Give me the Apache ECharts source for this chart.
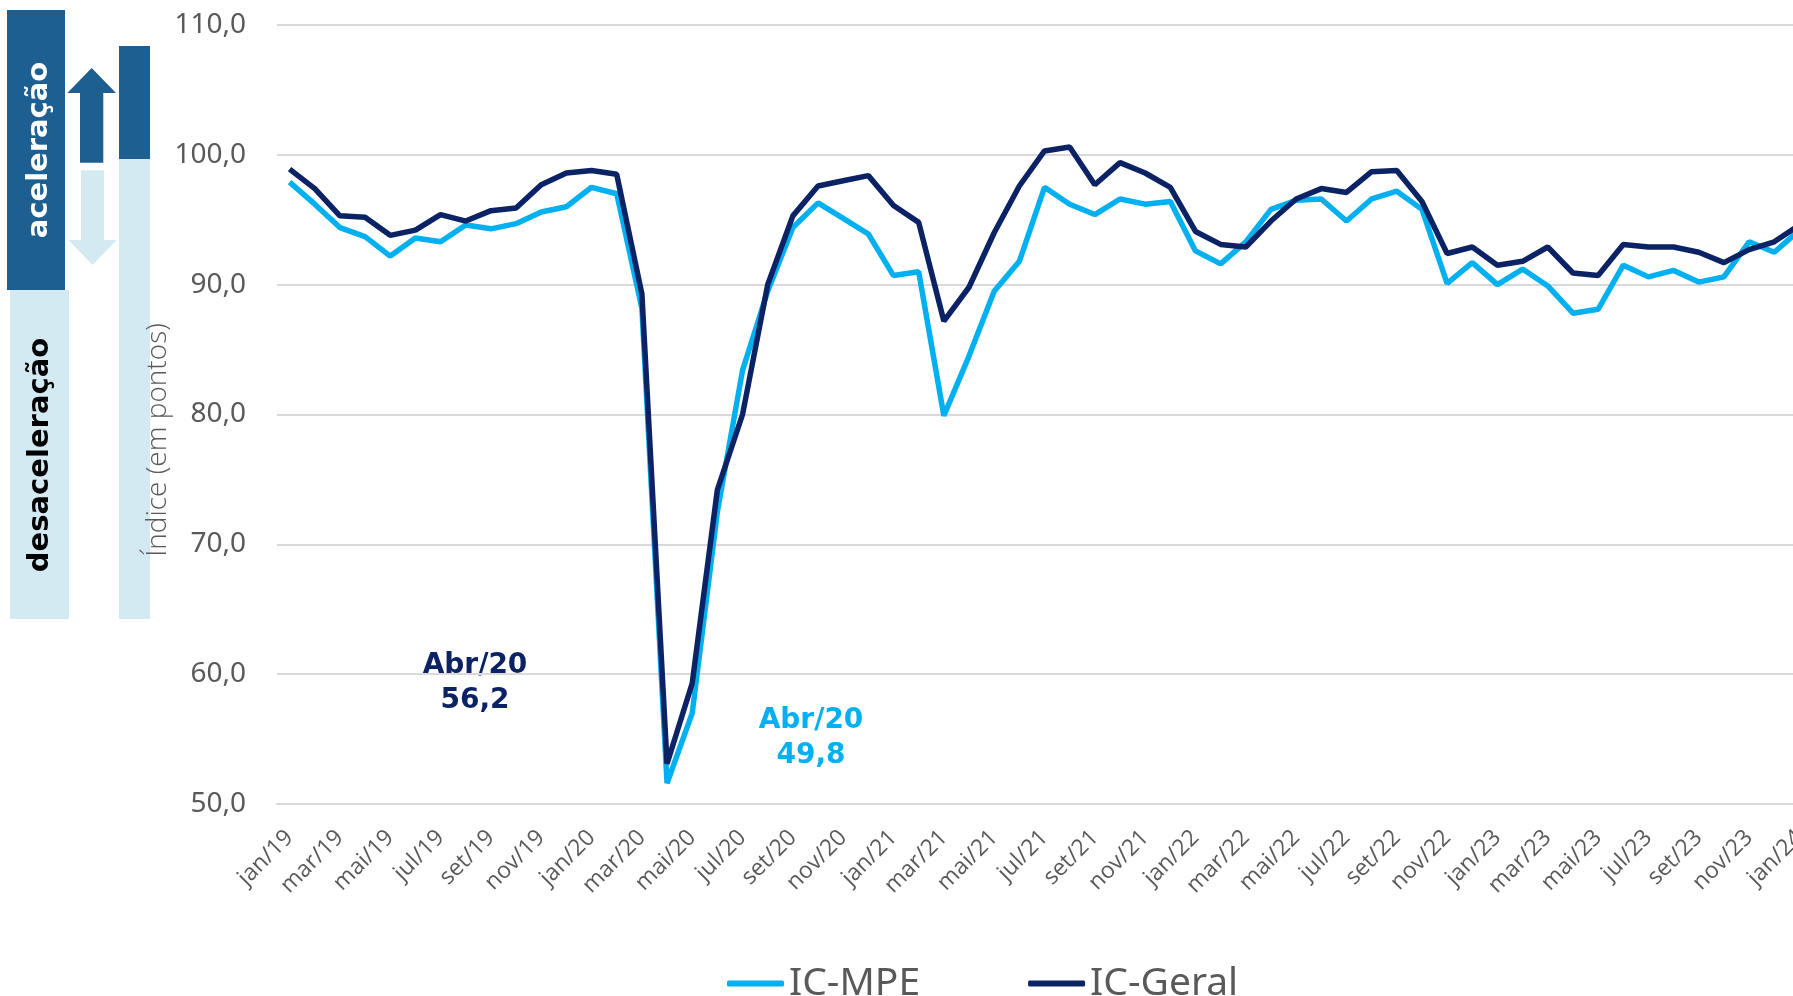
<!DOCTYPE html>
<html>
<head>
<meta charset="utf-8">
<title>IC-MPE x IC-Geral</title>
<script src="https://cdn.jsdelivr.net/npm/echarts@6/dist/echarts.min.js"></script>
<style>
  html, body { margin: 0; padding: 0; background: #fff; overflow: hidden; }
  #chart { width: 1793px; height: 996px; }
</style>
</head>
<body>
<div id="chart"></div>
<script>
// meses (jan/19 .. jan/24)
var months = ['jan', 'fev', 'mar', 'abr', 'mai', 'jun', 'jul', 'ago', 'set', 'out', 'nov', 'dez'];
var years = ['19', '20', '21', '22', '23', '24'];
var categories = [];
years.forEach(function (y) {
  months.forEach(function (m) {
    if (categories.length < 61) categories.push(m + '/' + y);
  });
});

// índice (em pontos)
var icMpe = [
  97.9, 96.2, 94.4, 93.7, 92.2, 93.6, 93.3, 94.6, 94.3, 94.7, 95.6, 96.0,
  97.5, 97.0, 88.2, 51.6, 57.0, 72.5, 83.4, 89.5, 94.4, 96.3, 95.1, 93.9,
  90.7, 91.0, 79.9, 84.5, 89.5, 91.8, 97.5, 96.2, 95.4, 96.6, 96.2, 96.4,
  92.6, 91.6, 93.3, 95.8, 96.5, 96.6, 94.9, 96.6, 97.2, 95.8, 90.1, 91.7,
  90.0, 91.2, 89.9, 87.8, 88.1, 91.5, 90.6, 91.1, 90.2, 90.6, 93.3, 92.5,
  94.2
];
var icGeral = [
  98.9, 97.4, 95.3, 95.2, 93.8, 94.2, 95.4, 94.9, 95.7, 95.9, 97.7, 98.6,
  98.8, 98.5, 89.3, 53.1, 59.3, 74.2, 80.0, 90.0, 95.3, 97.6, 98.0, 98.4,
  96.1, 94.8, 87.2, 89.8, 94.0, 97.6, 100.3, 100.6, 97.7, 99.4, 98.6, 97.5,
  94.1, 93.1, 92.9, 94.9, 96.6, 97.4, 97.1, 98.7, 98.8, 96.4, 92.4, 92.9,
  91.5, 91.8, 92.9, 90.9, 90.7, 93.1, 92.9, 92.9, 92.5, 91.7, 92.7, 93.3,
  94.6
];

var corMpe = '#00B0F0';
var corGeral = '#0B2265';
var azulEscuro = '#1E5F91';
var azulClaro = '#D4EAF2';

var chart = echarts.init(document.getElementById('chart'));

var option = {
  animation: false,
  grid: {
    left: 277,
    top: 25,
    right: -19,
    bottom: 192,
    containLabel: false,
    outerBoundsMode: 'none'
  },
  legend: {
    data: ['IC-MPE', 'IC-Geral'],
    left: 722,
    top: 959,
    icon: 'roundRect',
    itemWidth: 57,
    itemHeight: 6,
    itemGap: 108,
    textStyle: {
      color: '#595959',
      fontFamily: 'Noto Sans',
      fontSize: 39
    }
  },
  xAxis: {
    type: 'category',
    data: categories,
    boundaryGap: true,
    axisLine: { lineStyle: { color: '#D9D9D9', width: 2 } },
    axisTick: { interval: 0, length: 9, lineStyle: { color: '#D9D9D9', width: 2 } },
    axisLabel: {
      interval: 1,
      rotate: 45,
      margin: 30,
      color: '#595959',
      fontFamily: 'Open Sans',
      fontSize: 23
    },
    splitLine: { show: false }
  },
  yAxis: {
    type: 'value',
    min: 50,
    max: 110,
    interval: 10,
    axisLine: { show: false },
    axisTick: { show: false },
    axisLabel: {
      margin: 31,
      color: '#595959',
      fontFamily: 'Noto Sans',
      fontSize: 28,
      formatter: function (v) { return v.toFixed(1).replace('.', ','); }
    },
    splitLine: { lineStyle: { color: '#D9D9D9', width: 2 } }
  },
  series: [
    {
      name: 'IC-MPE',
      type: 'line',
      data: icMpe,
      showSymbol: false,
      symbol: 'none',
      lineStyle: { color: corMpe, width: 5.5 },
      itemStyle: { color: corMpe }
    },
    {
      name: 'IC-Geral',
      type: 'line',
      data: icGeral,
      showSymbol: false,
      symbol: 'none',
      lineStyle: { color: corGeral, width: 5.5 },
      itemStyle: { color: corGeral }
    }
  ],
  graphic: [
    // caixa aceleração / desaceleração
    { type: 'rect', shape: { x: 7, y: 10, width: 58, height: 280 }, style: { fill: azulEscuro } },
    { type: 'rect', shape: { x: 10, y: 290, width: 59, height: 329 }, style: { fill: azulClaro } },
    {
      type: 'text', x: 39, y: 150, rotation: Math.PI / 2,
      style: { text: 'aceleração', fill: '#fff', font: 'bold 29px "DejaVu Sans"', align: 'center', verticalAlign: 'middle' }
    },
    {
      type: 'text', x: 40, y: 455, rotation: Math.PI / 2,
      style: { text: 'desaceleração', fill: '#000', font: 'bold 29px "DejaVu Sans"', align: 'center', verticalAlign: 'middle' }
    },
    // setas
    {
      type: 'polygon',
      shape: { points: [[91.7, 68], [116, 93], [103.3, 93], [103.3, 162.7], [80, 162.7], [80, 93], [67.3, 93]] },
      style: { fill: azulEscuro }
    },
    {
      type: 'polygon',
      shape: { points: [[81, 170.3], [104, 170.3], [104, 240], [116.7, 240], [92.5, 265], [68.3, 240], [81, 240]] },
      style: { fill: azulClaro }
    },
    // barra ao lado do eixo
    { type: 'rect', shape: { x: 119, y: 46, width: 31, height: 113 }, style: { fill: azulEscuro } },
    { type: 'rect', shape: { x: 119, y: 159, width: 31, height: 460 }, style: { fill: azulClaro } },
    {
      type: 'text', x: 158, y: 440, rotation: Math.PI / 2,
      style: { text: 'Índice (em pontos)', fill: '#595959', font: '300 28px "Open Sans"', align: 'center', verticalAlign: 'middle' }
    },
    // anotações
    {
      type: 'text', x: 475, y: 683,
      style: { text: 'Abr/20\n56,2', fill: corGeral, font: 'bold 28px "DejaVu Sans"', align: 'center', verticalAlign: 'middle', lineHeight: 35 }
    },
    {
      type: 'text', x: 811, y: 738,
      style: { text: 'Abr/20\n49,8', fill: corMpe, font: 'bold 28px "DejaVu Sans"', align: 'center', verticalAlign: 'middle', lineHeight: 35 }
    }
  ]
};

chart.setOption(option);
</script>
</body>
</html>
